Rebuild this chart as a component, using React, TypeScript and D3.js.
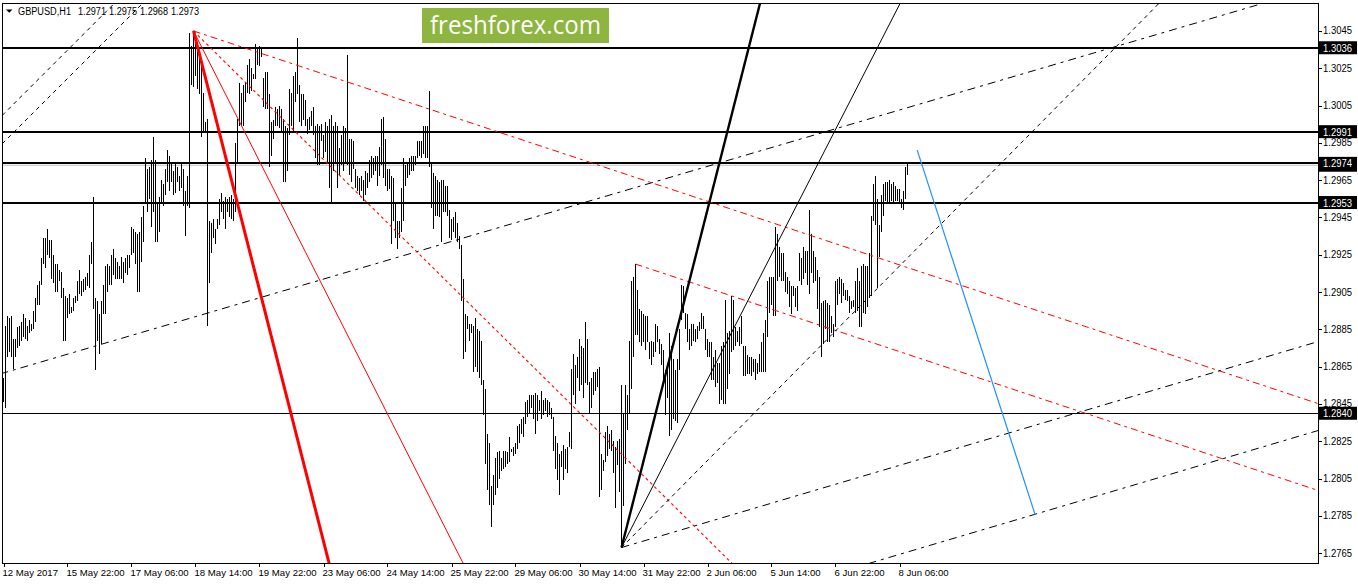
import React from 'react';
import * as d3 from 'd3';

// ---------- DATA (prices as 4-digit pips: value v means 1 + v/10000) ----------
const barHigh = [
  2859,2887,2892,2891,2892,2880,2880,2886,2887,2889,
  2893,2891,2887,2890,2888,2895,2902,2909,2911,2923,
  2934,2934,2939,2933,2933,2925,2920,2920,2917,2916,
  2907,2903,2902,2904,2897,2902,2903,2911,2917,2911,
  2912,2913,2915,2925,2932,2956,2902,2900,2893,2900,
  2909,2919,2920,2919,2925,2928,2923,2921,2919,2924,
  2921,2923,2925,2925,2940,2939,2937,2936,2937,2945,
  2951,2977,2971,2972,2976,2988,2976,2952,2956,2965,
  2963,2971,2981,2978,2974,2970,2975,2972,2967,2974,
  2971,2959,2967,3044,3037,3045,3041,3039,3032,3028,
  3012,2996,2998,2943,2942,2944,2939,2944,2955,2958,
  2954,2956,2955,2956,2957,2955,2985,2998,3017,3012,
  3016,3017,3027,3030,3025,3022,3038,3036,3037,3036,
  3020,3023,3023,3011,2996,2997,3004,3003,3005,3003,
  2998,2994,2993,3014,3012,3021,3023,3041,3016,3011,
  3011,3008,2998,2999,3002,3004,2994,2995,2994,2995,
  2989,2996,2994,2998,3000,2994,2996,2994,2982,2989,
  2994,2993,3032,2987,2987,2986,2971,2967,2966,2967,
  2965,2970,2969,2976,2978,2977,2978,2978,2983,2998,
  2999,2987,2971,2971,2967,2966,2952,2943,2943,2961,
  2977,2973,2974,2977,2978,2978,2978,2986,2986,2986,
  2994,2994,2994,3013,2975,2969,2967,2965,2964,2965,
  2965,2962,2962,2949,2944,2945,2948,2942,2935,2930,
  2912,2893,2892,2888,2888,2887,2891,2885,2884,2879,
  2858,2853,2829,2824,2801,2807,2816,2819,2820,2816,
  2820,2820,2819,2827,2821,2822,2824,2833,2834,2837,
  2838,2846,2847,2850,2850,2850,2851,2850,2847,2852,
  2847,2848,2847,2846,2843,2838,2828,2824,2818,2820,
  2823,2821,2822,2830,2864,2872,2866,2870,2880,2876,
  2875,2889,2880,2857,2859,2862,2862,2864,2865,2818,
  2815,2830,2833,2829,2831,2825,2822,2825,2826,2855,
  2840,2855,2850,2879,2911,2913,2920,2906,2896,2895,
  2893,2892,2892,2878,2879,2878,2888,2887,2880,2877,
  2874,2863,2867,2883,2876,2869,2863,2869,2885,2909,
  2908,2894,2893,2885,2888,2888,2885,2887,2889,2894,
  2892,2885,2880,2878,2878,2870,2874,2867,2867,2876,
  2878,2901,2883,2884,2903,2901,2886,2884,2886,2892,
  2876,2876,2871,2870,2870,2869,2869,2867,2872,2878,
  2883,2890,2911,2913,2913,2913,2940,2936,2929,2926,
  2926,2916,2913,2911,2908,2908,2907,2908,2926,2923,
  2929,2927,2927,2949,2936,2927,2924,2917,2913,2899,
  2900,2901,2899,2898,2892,2888,2911,2912,2913,2912,
  2910,2906,2906,2903,2900,2901,2911,2918,2911,2919,
  2920,2919,2919,2926,2946,2963,2967,2955,2941,2957,
  2963,2964,2964,2965,2963,2964,2962,2960,2960,2955,
  2959,2972,2975,
];
const barLow = [
  2846,2843,2870,2873,2870,2864,2870,2875,2876,2879,
  2881,2880,2879,2883,2884,2885,2889,2898,2898,2909,
  2920,2918,2925,2923,2912,2910,2905,2905,2911,2902,
  2879,2879,2891,2893,2894,2895,2899,2900,2904,2903,
  2905,2906,2908,2907,2920,2896,2863,2879,2872,2877,
  2893,2893,2905,2909,2909,2914,2912,2912,2912,2912,
  2910,2915,2914,2918,2925,2926,2920,2905,2905,2921,
  2932,2952,2948,2955,2940,2948,2932,2932,2937,2952,
  2951,2957,2964,2959,2964,2957,2958,2964,2959,2961,
  2951,2935,2951,2950,3016,3015,3021,3014,3011,2988,
  2991,2991,2887,2910,2926,2934,2931,2939,2941,2948,
  2944,2939,2948,2945,2944,2943,2948,2975,2994,2994,
  2994,3007,3012,3011,3013,3019,3019,3027,3026,3031,
  3004,3003,3003,2972,2978,2987,2994,2994,2993,2991,
  2964,2964,2970,2989,2994,2991,3007,3011,2996,2994,
  2997,2994,2990,2992,2994,2989,2977,2973,2973,2986,
  2977,2980,2975,2961,2953,2970,2975,2961,2968,2973,
  2970,2975,2973,2968,2964,2971,2961,2959,2957,2959,
  2954,2957,2961,2964,2966,2968,2970,2962,2967,2973,
  2966,2962,2959,2960,2931,2943,2934,2928,2934,2937,
  2943,2962,2966,2968,2970,2970,2973,2977,2978,2977,
  2979,2977,2977,2972,2950,2939,2946,2946,2945,2932,
  2948,2948,2946,2934,2933,2937,2934,2932,2928,2900,
  2869,2873,2885,2879,2883,2862,2865,2862,2859,2855,
  2839,2813,2799,2791,2779,2791,2796,2800,2805,2809,
  2810,2811,2813,2814,2819,2817,2818,2821,2824,2829,
  2827,2834,2838,2840,2843,2837,2829,2836,2841,2837,
  2839,2841,2838,2839,2837,2820,2810,2804,2796,2811,
  2804,2810,2808,2822,2821,2850,2845,2859,2852,2855,
  2848,2856,2855,2840,2843,2850,2852,2854,2795,2799,
  2809,2814,2817,2821,2820,2808,2789,2812,2798,2769,
  2790,2813,2831,2840,2853,2870,2882,2882,2878,2876,
  2878,2874,2878,2869,2866,2870,2873,2878,2872,2866,
  2858,2839,2848,2828,2831,2837,2836,2835,2863,2890,
  2894,2885,2878,2874,2876,2879,2878,2880,2884,2885,
  2885,2874,2870,2870,2858,2858,2854,2856,2845,2847,
  2845,2845,2853,2861,2873,2874,2876,2878,2876,2877,
  2860,2860,2861,2861,2860,2862,2858,2861,2862,2862,
  2862,2862,2881,2894,2898,2892,2892,2911,2913,2911,
  2911,2905,2904,2897,2893,2903,2897,2895,2911,2909,
  2912,2915,2909,2904,2915,2910,2911,2896,2886,2870,
  2877,2885,2878,2878,2883,2881,2886,2898,2904,2899,
  2903,2901,2900,2894,2896,2897,2894,2895,2886,2886,
  2894,2893,2897,2902,2903,2943,2941,2907,2924,2937,
  2946,2954,2953,2953,2954,2953,2954,2954,2953,2950,
  2949,2955,2968,
];

const timeLabels = [
  '12 May 2017', '15 May 22:00', '17 May 06:00', '18 May 14:00', '19 May 22:00',
  '23 May 06:00', '24 May 14:00', '25 May 22:00', '29 May 06:00', '30 May 14:00',
  '31 May 22:00', '2 Jun 06:00', '5 Jun 14:00', '6 Jun 22:00', '8 Jun 06:00',
];
const timeLabelBars = [0, 32, 64, 96, 128, 160, 192, 224, 256, 288, 320, 352, 384, 416, 448];

const priceTicks = [1.3045, 1.3025, 1.3005, 1.2985, 1.2965, 1.2945, 1.2925, 1.2905,
  1.2885, 1.2865, 1.2845, 1.2825, 1.2805, 1.2785, 1.2765];
const levelsThick = [1.3036, 1.2991, 1.2974, 1.2953];
const levelsThin = [1.2840];
const bidPrice = 1.2973;
const headerSymbol = 'GBPUSD,H1';
const headerOHLC = ['1.2971', '1.2975', '1.2968', '1.2973'];

// trend line anchors: [bar index, price]
const redFanOrigin: [number, number] = [95, 1.3045];
const redFanTargets: [number, number][] = [[162.7, 1.2760], [229.6, 1.2760], [360, 1.2764], [655, 1.2846]];
const redChannel2: [number, number][] = [[316, 1.2920], [657, 1.27987]];
const blackFanOrigin: [number, number] = [309, 1.2768];
const blackFanTargets: [number, number][] = [[378.3, 1.3060], [448.4, 1.3060], [577, 1.3059], [655, 1.28777]];
const longDashDot: [number, number][] = [[0, 1.28616], [628.4, 1.30594]];
const lowerDashDot: [number, number][] = [[400, 1.27491], [655, 1.2830]];
const topLeftDashedA: [number, number][] = [[0, 1.30004], [50, 1.30540]];
const topLeftDashedB: [number, number][] = [[0, 1.29852], [50, 1.30388]];
const blueLine: [number, number][] = [[456.85, 1.29811], [515.85, 1.27855]];

const FONT = 'Liberation Sans, Arial, sans-serif';

export default function App() {
  const W = 1358, H = 584;
  const L = 2, R = 1318, T = 3, B = 563;
  const x = d3.scaleLinear().domain([0, 657]).range([3.5, 1317.5]);
  const y = d3.scaleLinear().domain([1.27597, 1.306]).range([B, T]);
  const px = (p: [number, number]) => [x(p[0]), y(p[1])];

  const seg = (a: [number, number], b: [number, number], mode: 'ray' | 'line' | 'seg') => {
    const A = px(a), Bp = px(b);
    const dx = Bp[0] - A[0], dy = Bp[1] - A[1];
    const t = 30;
    if (mode === 'ray') return { x1: A[0], y1: A[1], x2: A[0] + dx * t, y2: A[1] + dy * t };
    if (mode === 'line') return { x1: A[0] - dx * t, y1: A[1] - dy * t, x2: A[0] + dx * t, y2: A[1] + dy * t };
    return { x1: A[0], y1: A[1], x2: Bp[0], y2: Bp[1] };
  };

  const lines: { s: any; stroke: string; w: number; dash?: string }[] = [
    { s: seg(topLeftDashedA[0], topLeftDashedA[1], 'line'), stroke: '#000', w: 1, dash: '4,4' },
    { s: seg(topLeftDashedB[0], topLeftDashedB[1], 'line'), stroke: '#000', w: 1, dash: '4,4' },
    { s: seg(longDashDot[0], longDashDot[1], 'line'), stroke: '#000', w: 1, dash: '8,5,3,5' },
    { s: seg(lowerDashDot[0], lowerDashDot[1], 'line'), stroke: '#000', w: 1, dash: '8,5,3,5' },
    { s: seg(redFanOrigin, redFanTargets[3], 'ray'), stroke: '#ff0000', w: 1, dash: '7,4,3,4' },
    { s: seg(redChannel2[0], redChannel2[1], 'ray'), stroke: '#ff0000', w: 1, dash: '7,4,3,4' },
    { s: seg(redFanOrigin, redFanTargets[2], 'ray'), stroke: '#ff0000', w: 1.1, dash: '3,3' },
    { s: seg(redFanOrigin, redFanTargets[1], 'ray'), stroke: '#ff0000', w: 1 },
    { s: seg(redFanOrigin, redFanTargets[0], 'ray'), stroke: '#ff0000', w: 3 },
    { s: seg(blackFanOrigin, blackFanTargets[3], 'ray'), stroke: '#000', w: 1, dash: '8,5,3,5' },
    { s: seg(blackFanOrigin, blackFanTargets[2], 'ray'), stroke: '#000', w: 1, dash: '4,4' },
    { s: seg(blackFanOrigin, blackFanTargets[1], 'ray'), stroke: '#000', w: 1 },
    { s: seg(blackFanOrigin, blackFanTargets[0], 'ray'), stroke: '#000', w: 2.4 },
    { s: seg(blueLine[0], blueLine[1], 'seg'), stroke: '#1e90ff', w: 1.2 },
  ];

  const barPath = barHigh.map((h, i) => {
    const yh = Math.round(y(1 + h / 10000));
    let yl = Math.round(y(1 + barLow[i] / 10000));
    if (yl <= yh) yl = yh + 1;
    return `M${x(i)},${yh}V${yl}`;
  }).join('');

  const boxLabel = (p: number, key: string) => {
    const yy = y(p);
    return (
      <g key={key}>
        <rect x={1319} y={yy - 6.5} width={38} height={13} fill="#000" />
        <text x={1323} y={yy + 4} fontSize={10} fill="#fff" fontFamily={FONT}
          textLength={29} lengthAdjust="spacingAndGlyphs">{p.toFixed(4)}</text>
      </g>
    );
  };

  return (
    <svg width={W} height={H} style={{ position: 'absolute', left: 0, top: 0, background: '#fff' }}
      xmlns="http://www.w3.org/2000/svg">
      <defs>
        <clipPath id="plot"><rect x={L} y={T} width={R - L} height={B - T} /></clipPath>
      </defs>
      <rect x={0} y={0} width={W} height={H} fill="#fff" />

      {/* logo */}
      <rect x={422} y={8} width={187} height={35} fill="#8db540" />
      <text x={430} y={34} fontSize={26} fill="#fff" fontFamily="Open Sans, Noto Sans, sans-serif"
        textLength={171} lengthAdjust="spacingAndGlyphs">freshforex.com</text>

      <g clipPath="url(#plot)">
        {/* horizontal levels */}
        <line x1={L} x2={R} y1={y(bidPrice)} y2={y(bidPrice)} stroke="#c0c0c0" strokeWidth={1} />
        {levelsThick.map((p, i) => (
          <line key={'lt' + i} x1={L} x2={R} y1={Math.round(y(p))} y2={Math.round(y(p))} stroke="#000" strokeWidth={2} />
        ))}
        {levelsThin.map((p, i) => (
          <line key={'ln' + i} x1={L} x2={R} y1={Math.round(y(p)) + 0.5} y2={Math.round(y(p)) + 0.5} stroke="#000" strokeWidth={1} />
        ))}
        {/* bars */}
        <path d={barPath} stroke="#000" strokeWidth={1} fill="none" shapeRendering="crispEdges" />
        {/* trend lines */}
        {lines.map((l, i) => (
          <line key={'tl' + i} {...l.s} stroke={l.stroke} strokeWidth={l.w} strokeDasharray={l.dash} fill="none" />
        ))}
      </g>

      {/* frame */}
      <path d={`M${L + 0.5},${T + 0.5}H${R + 0.5}V${B + 0.5}H${L + 0.5}Z`} fill="none" stroke="#000" strokeWidth={1} shapeRendering="crispEdges" />

      {/* header */}
      <path d="M6,9.5 L12.5,9.5 L9.25,12.8 Z" fill="#000" />
      <text x={18} y={14.5} fontSize={10} fontFamily={FONT} fill="#000"
        textLength={53} lengthAdjust="spacingAndGlyphs">{headerSymbol}</text>
      {headerOHLC.map((v, i) => (
        <text key={'h' + i} x={78 + i * 31} y={14.5} fontSize={10} fontFamily={FONT} fill="#000"
          textLength={28} lengthAdjust="spacingAndGlyphs">{v}</text>
      ))}

      {/* price axis */}
      {priceTicks.map((p, i) => (
        <g key={'pt' + i}>
          <line x1={R} x2={R + 4} y1={Math.round(y(p)) + 0.5} y2={Math.round(y(p)) + 0.5} stroke="#000" />
          <text x={1323} y={y(p) + 3.5} fontSize={10} fontFamily={FONT} fill="#000"
            textLength={29} lengthAdjust="spacingAndGlyphs">{p.toFixed(4)}</text>
        </g>
      ))}
      {boxLabel(1.3036, 'b1')}
      {boxLabel(1.2991, 'b2')}
      {boxLabel(bidPrice, 'b3')}
      {boxLabel(1.2974, 'b4')}
      {boxLabel(1.2953, 'b5')}
      {boxLabel(1.2840, 'b6')}

      {/* time axis */}
      {timeLabelBars.map((b, i) => (
        <g key={'tx' + i}>
          <line x1={Math.round(x(b)) + 0.5} x2={Math.round(x(b)) + 0.5} y1={B} y2={B + 4} stroke="#000" />
          <text x={x(b) - 1} y={576} fontSize={9.6} fontFamily={FONT} fill="#000">{timeLabels[i]}</text>
        </g>
      ))}
    </svg>
  );
}
